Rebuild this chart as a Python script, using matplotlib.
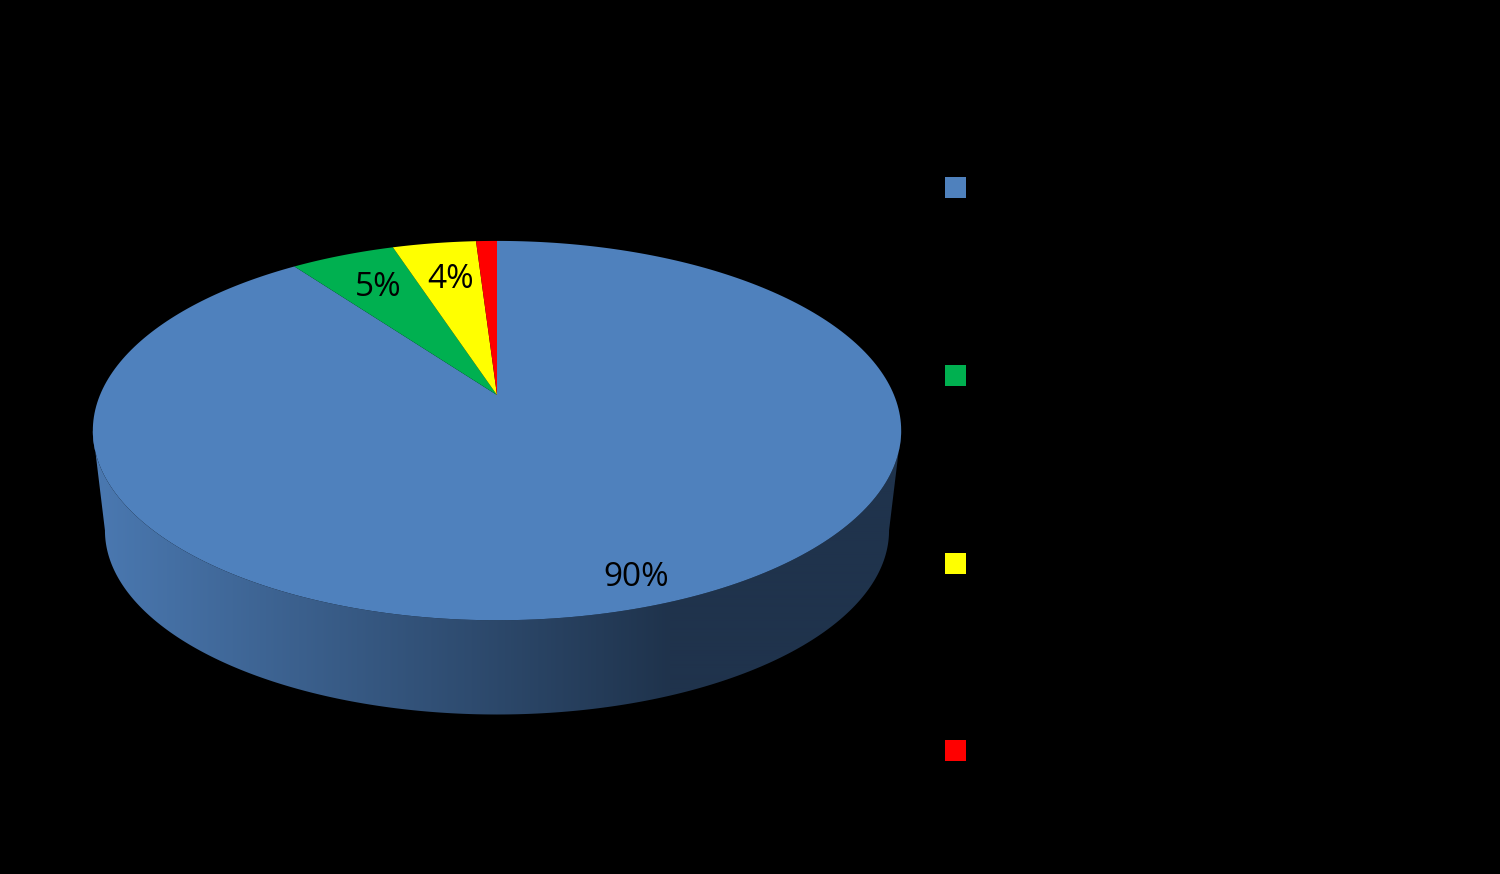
import numpy as np
import matplotlib
matplotlib.use('Agg')
import matplotlib.pyplot as plt

# share of each slice, clockwise from the top, last one ends at 12 o'clock
values = [90, 5, 4, 1]
labels = ['90%', '5%', '4%', '']
colors = ['#4f81bd', '#00b050', '#ffff00', '#ff0000']
label_pos = [(636, 577), (378, 287), (451, 279)]


def project(t, scale=1.0, y0=395.0):
    """circle angle (clockwise from top) -> pixel position, with perspective"""
    u = np.sin(t)
    v = np.cos(t)
    k = 0.1876
    x = 497 + scale * 397 * u / (1 + k * v)
    y = y0 - scale * 183 * v / (1 + k * v)
    return x, y


fig = plt.figure(figsize=(15, 8.74), dpi=100, facecolor='black')
ax = fig.add_axes([0, 0, 1, 1])

# side wall, front half only, from the widest point on one side to the other
ts = np.linspace(np.pi * 0.56, np.pi * 1.44, 400)
x_top, y_top = project(ts)
x_bot, y_bot = project(ts, 0.97, 496)
wall = plt.Polygon(np.c_[np.r_[x_top, x_bot[::-1]], np.r_[y_top, y_bot[::-1]]],
                   fc='none', ec='none')
ax.add_patch(wall)
left = np.array([0x4a, 0x78, 0xb0]) / 255
right = np.array([0x1f, 0x33, 0x4c]) / 255
f = np.clip((np.arange(90, 910) - 100) / 570, 0, 1)
shade = (left + (right - left) * f[:, None])[None, :, :]
im = ax.imshow(shade, extent=(90, 910, 720, 420), aspect='auto', interpolation='bilinear')
im.set_clip_path(wall)
ax.set_xlim(0, 1500)
ax.set_ylim(874, 0)
ax.axis('off')

# slices on the top face
ends = 2 * np.pi * np.cumsum(values) / np.sum(values)
starts = np.r_[0, ends[:-1]]
for s, e, c in zip(starts, ends, colors):
    t = np.linspace(s, e, 300)
    x, y = project(t)
    ax.fill(np.r_[497, x], np.r_[395, y], color=c, lw=0)

for lab, pos in zip(labels, label_pos):
    ax.text(pos[0], pos[1], lab, color='black', fontsize=24, ha='center', va='center',
            family='Open Sans')

# legend squares, the legend text is black on black
for c, y in zip(colors, [187.5, 375.5, 563, 750.5]):
    ax.add_patch(plt.Rectangle((945, y - 10.5), 21, 21, color=c, lw=0))

plt.savefig('out.png', dpi=100, facecolor='black')
